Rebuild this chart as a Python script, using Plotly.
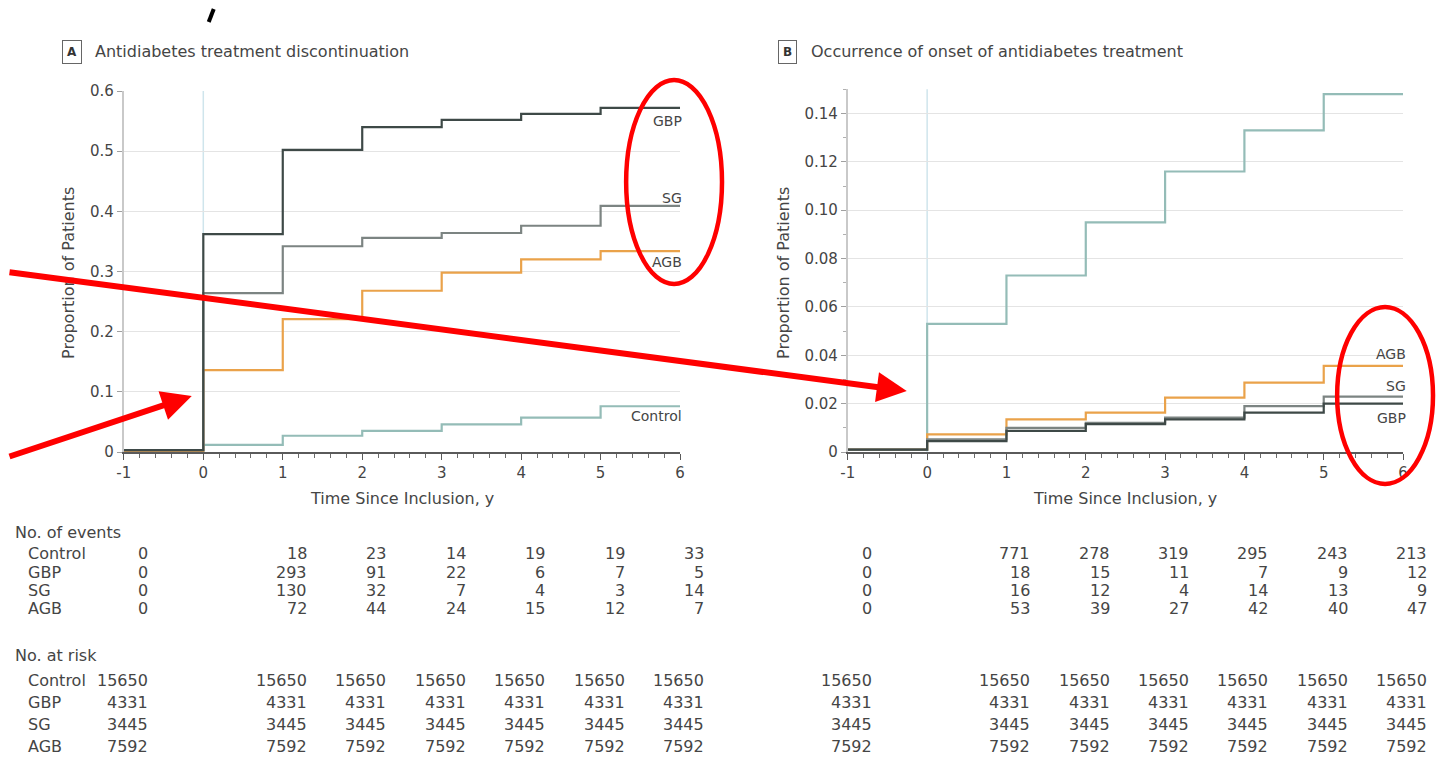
import plotly.graph_objects as go

# Figure size and the screen box it is shown in (calibrated from a test render)
W, H = 1432, 748
BOX_X0, BOX_W = 14, 1422
BOX_Y0, BOX_H = 16, 730

# ---------------- data ----------------
times = [-1, 0, 1, 2, 3, 4, 5, 6]
groups = ["Control", "GBP", "SG", "AGB"]

# Panel A: antidiabetes treatment discontinuation (value per interval [-1,0),[0,1),...,[5,6])
A_control = [0.002, 0.012, 0.027, 0.035, 0.046, 0.057, 0.076]
A_gbp = [0.003, 0.362, 0.502, 0.540, 0.552, 0.562, 0.572]
A_sg = [0.003, 0.264, 0.342, 0.356, 0.364, 0.376, 0.409]
A_agb = [0.002, 0.136, 0.221, 0.268, 0.298, 0.320, 0.334]

# Panel B: occurrence of onset of antidiabetes treatment
B_control = [0.001, 0.053, 0.073, 0.095, 0.116, 0.133, 0.148]
B_gbp = [0.001, 0.0045, 0.0087, 0.0115, 0.0135, 0.0163, 0.0200]
B_sg = [0.001, 0.0052, 0.0100, 0.0121, 0.0142, 0.0190, 0.0229]
B_agb = [0.001, 0.0073, 0.0135, 0.0163, 0.0225, 0.0287, 0.0356]

# tables
table_cols = [-1, 1, 2, 3, 4, 5, 6]
events_A = {
    "Control": [0, 18, 23, 14, 19, 19, 33],
    "GBP": [0, 293, 91, 22, 6, 7, 5],
    "SG": [0, 130, 32, 7, 4, 3, 14],
    "AGB": [0, 72, 44, 24, 15, 12, 7],
}
events_B = {
    "Control": [0, 771, 278, 319, 295, 243, 213],
    "GBP": [0, 18, 15, 11, 7, 9, 12],
    "SG": [0, 16, 12, 4, 14, 13, 9],
    "AGB": [0, 53, 39, 27, 42, 40, 47],
}
at_risk = {
    "Control": [15650] * 7,
    "GBP": [4331] * 7,
    "SG": [3445] * 7,
    "AGB": [7592] * 7,
}

x_tickvals = [-1, 0, 1, 2, 3, 4, 5, 6]
x_ticktext = ["-1", "0", "1", "2", "3", "4", "5", "6"]
yA_tickvals = [0, 0.1, 0.2, 0.3, 0.4, 0.5, 0.6]
yA_ticktext = ["0", "0.1", "0.2", "0.3", "0.4", "0.5", "0.6"]
yB_tickvals = [0, 0.02, 0.04, 0.06, 0.08, 0.10, 0.12, 0.14]
yB_ticktext = ["0", "0.02", "0.04", "0.06", "0.08", "0.10", "0.12", "0.14"]

# end-of-curve labels (y in data units)
labels_A = {"GBP": 0.550, "SG": 0.423, "AGB": 0.315, "Control": 0.060}
labels_B = {"Control": 0.1522, "AGB": 0.0405, "SG": 0.0273, "GBP": 0.0142}

# ---------------- style ----------------
colors = {"Control": "#94bcb7", "GBP": "#3e4947", "SG": "#7c8482", "AGB": "#eaa24a"}
FONT = "DejaVu Sans, sans-serif"
TXT = "#454545"


def px(x):
    return (x - BOX_X0) / BOX_W


def py(y):
    return 1 - (y - BOX_Y0) / BOX_H


fig = go.Figure()

seriesA = {"Control": A_control, "GBP": A_gbp, "SG": A_sg, "AGB": A_agb}
seriesB = {"Control": B_control, "GBP": B_gbp, "SG": B_sg, "AGB": B_agb}

for name in ["Control", "AGB", "SG", "GBP"]:
    vals = seriesA[name]
    fig.add_trace(go.Scatter(x=times, y=vals + [vals[-1]], mode="lines", line_shape="hv",
                             line=dict(color=colors[name], width=2.2), xaxis="x", yaxis="y",
                             showlegend=False, hoverinfo="skip", cliponaxis=False))
for name in ["Control", "AGB", "SG", "GBP"]:
    vals = seriesB[name]
    fig.add_trace(go.Scatter(x=times, y=vals + [vals[-1]], mode="lines", line_shape="hv",
                             line=dict(color=colors[name], width=2.2), xaxis="x2", yaxis="y2",
                             showlegend=False, hoverinfo="skip", cliponaxis=False))

xaxis_common = dict(range=[-1, 6], tickvals=x_tickvals, ticktext=x_ticktext,
                    showline=True, linecolor="#5a5a5a", linewidth=1.5,
                    ticks="outside", ticklen=6, tickcolor="#5a5a5a", tickwidth=1,
                    minor=dict(dtick=0.2, ticks="outside", ticklen=4, tickcolor="#6a6a6a"),
                    showgrid=False, zeroline=False,
                    tickfont=dict(family=FONT, size=15, color=TXT))
yaxis_common = dict(showline=True, linecolor="#c9c9c9", linewidth=2,
                    ticks="outside", ticklen=5, tickcolor="#a0a0a0",
                    showgrid=True, gridcolor="#e4e4e4", gridwidth=1.2, zeroline=False,
                    tickfont=dict(family=FONT, size=15, color=TXT))

fig.update_layout(
    width=W, height=H, autosize=False,
    margin=dict(l=0, r=0, t=0, b=0),
    paper_bgcolor="white", plot_bgcolor="white",
    font=dict(family=FONT, size=15, color=TXT),
    xaxis=dict(domain=[px(123), px(680)], anchor="y", **xaxis_common),
    yaxis=dict(domain=[py(451), py(90)], anchor="x", range=[0, 0.6],
               tickvals=yA_tickvals, ticktext=yA_ticktext, **yaxis_common),
    xaxis2=dict(domain=[px(848), px(1404)], anchor="y2", **xaxis_common),
    yaxis2=dict(domain=[py(451), py(88.3)], anchor="x2", range=[0, 0.15],
                tickvals=yB_tickvals, ticktext=yB_ticktext,
                minor=dict(dtick=0.01, ticks="outside", ticklen=3, tickcolor="#b0b0b0"),
                **yaxis_common),
)

shapes = []
# vertical reference line at time 0
for xr, yr in [("x", "y domain"), ("x2", "y2 domain")]:
    shapes.append(dict(type="line", xref=xr, yref=yr, x0=0, x1=0, y0=0, y1=1,
                       line=dict(color="#cfe5ec", width=1.5), layer="below"))

ann = []
# panel titles
for bx, letter, title in [(71, "A", "Antidiabetes treatment discontinuation"),
                          (788, "B", "Occurrence of onset of antidiabetes treatment")]:
    ann.append(dict(x=px(bx), y=py(51), xref="paper", yref="paper", text="<b>%s</b>" % letter,
                    showarrow=False, font=dict(family=FONT, size=12, color="#333"),
                    bordercolor="#666", borderwidth=1, borderpad=4, xanchor="center", yanchor="middle"))
    ann.append(dict(x=px(bx + 21), y=py(51), xref="paper", yref="paper", text=title,
                    showarrow=False, font=dict(family=FONT, size=16, color=TXT),
                    xanchor="left", yanchor="middle"))

# axis titles
for cx, ax_x in [(402, 67), (1126, 783)]:
    ann.append(dict(x=px(ax_x), y=py(272), xref="paper", yref="paper", text="Proportion of Patients",
                    textangle=-90, showarrow=False, font=dict(family=FONT, size=16, color=TXT),
                    xanchor="center", yanchor="middle"))
    ann.append(dict(x=px(cx), y=py(498), xref="paper", yref="paper", text="Time Since Inclusion, y",
                    showarrow=False, font=dict(family=FONT, size=16, color=TXT),
                    xanchor="center", yanchor="middle"))

# curve end labels
for name, yv in labels_A.items():
    ann.append(dict(x=6, y=yv, xref="x", yref="y", text=name, showarrow=False, xanchor="right",
                    yanchor="middle", xshift=4, font=dict(family=FONT, size=14, color=TXT)))
for name, yv in labels_B.items():
    ann.append(dict(x=6, y=yv, xref="x2", yref="y2", text=name, showarrow=False, xanchor="right",
                    yanchor="middle", xshift=5, font=dict(family=FONT, size=14, color=TXT)))

# tables
ev_rows = [552, 571, 589, 607]
rk_rows = [679, 701, 723, 745]
TF = 16
ann.append(dict(x=px(12), y=py(531), xref="paper", yref="paper", text="No. of events", showarrow=False,
                xanchor="left", yanchor="middle", font=dict(family=FONT, size=TF, color=TXT)))
ann.append(dict(x=px(12), y=py(654), xref="paper", yref="paper", text="No. at risk", showarrow=False,
                xanchor="left", yanchor="middle", font=dict(family=FONT, size=TF, color=TXT)))
for i, g in enumerate(groups):
    for rowy in (ev_rows[i], rk_rows[i]):
        ann.append(dict(x=px(25), y=py(rowy), xref="paper", yref="paper", text=g, showarrow=False,
                        xanchor="left", yanchor="middle", font=dict(family=FONT, size=TF, color=TXT)))
    for xr, ev in [("x", events_A), ("x2", events_B)]:
        for c, v in zip(table_cols, ev[g]):
            ann.append(dict(x=c, y=py(ev_rows[i]), xref=xr, yref="paper", text=str(v), showarrow=False,
                            xanchor="right", yanchor="middle", xshift=26,
                            font=dict(family=FONT, size=TF, color=TXT)))
        for c, v in zip(table_cols, at_risk[g]):
            ann.append(dict(x=c, y=py(rk_rows[i]), xref=xr, yref="paper", text=str(v), showarrow=False,
                            xanchor="right", yanchor="middle", xshift=26,
                            font=dict(family=FONT, size=TF, color=TXT)))

# red highlight annotations
RED = "#ff0000"
ann.append(dict(x=px(907), y=py(390), xref="paper", yref="paper", text="", showarrow=True,
                ax=-925, ay=-119, axref="pixel", ayref="pixel", arrowhead=2, arrowsize=1,
                arrowwidth=6, arrowcolor=RED))
ann.append(dict(x=px(191), y=py(395), xref="paper", yref="paper", text="", showarrow=True,
                ax=-205, ay=61, axref="pixel", ayref="pixel", arrowhead=2, arrowsize=1,
                arrowwidth=6, arrowcolor=RED))
shapes.append(dict(type="circle", xref="paper", yref="paper", x0=px(626), x1=px(722),
                   y0=py(283), y1=py(79), line=dict(color=RED, width=4.5)))
shapes.append(dict(type="circle", xref="paper", yref="paper", x0=px(1338), x1=px(1434),
                   y0=py(483), y1=py(306), line=dict(color=RED, width=4.5)))
# small black stroke at top
shapes.append(dict(type="line", xref="paper", yref="paper", x0=px(208), y0=py(21), x1=px(213), y1=py(8),
                   line=dict(color="black", width=4)))

fig.update_layout(shapes=shapes, annotations=ann)

fig.write_html("out.html", config={"displayModeBar": False})
